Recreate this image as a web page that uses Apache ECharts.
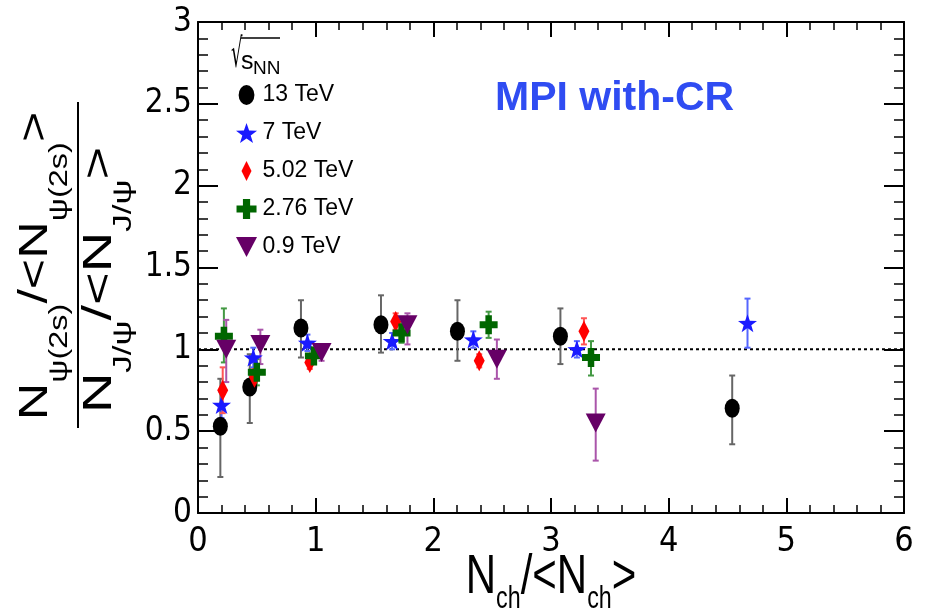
<!DOCTYPE html>
<html>
<head>
<meta charset="utf-8">
<script src="https://cdn.jsdelivr.net/npm/echarts@6/dist/echarts.min.js"></script>
<style>
html,body{margin:0;padding:0;background:#fff;}
#chart{width:927px;height:614px;}
</style>
</head>
<body>
<div id="chart"></div>
<script>
// ---- Data ----
const names = ['13 TeV', '7 TeV', '5.02 TeV', '2.76 TeV', '0.9 TeV'];

const x13 = [0.19, 0.44, 0.875, 1.555, 2.205, 3.08, 4.54];
const y13 = [0.53, 0.77, 1.13, 1.15, 1.11, 1.08, 0.64];
const lo13 = [0.31, 0.22, 0.18, 0.17, 0.18, 0.17, 0.22];
const hi13 = [0.29, 0.20, 0.17, 0.18, 0.19, 0.17, 0.20];

const x7 = [0.20, 0.47, 0.93, 1.65, 2.34, 3.22, 4.67];
const y7 = [0.66, 0.95, 1.04, 1.05, 1.06, 1.00, 1.16];
const lo7 = [0.08, 0.06, 0.05, 0.05, 0.05, 0.05, 0.15];
const hi7 = [0.08, 0.06, 0.05, 0.05, 0.05, 0.05, 0.15];

const x502 = [0.21, 0.48, 0.95, 1.68, 2.39, 3.28];
const y502 = [0.75, 0.83, 0.92, 1.17, 0.93, 1.11];
const lo502 = [0.14, 0.05, 0.04, 0.05, 0.04, 0.08];
const hi502 = [0.14, 0.05, 0.04, 0.05, 0.04, 0.08];

const x276 = [0.22, 0.50, 0.985, 1.73, 2.47, 3.34];
const y276 = [1.08, 0.86, 0.96, 1.10, 1.15, 0.95];
const lo276 = [0.16, 0.08, 0.05, 0.06, 0.08, 0.11];
const hi276 = [0.17, 0.08, 0.05, 0.06, 0.08, 0.10];

const x09 = [0.24, 0.53, 1.05, 1.78, 2.54, 3.38];
const y09 = [1.00, 1.03, 0.98, 1.15, 0.94, 0.55];
const lo09 = [0.20, 0.12, 0.05, 0.12, 0.12, 0.23];
const hi09 = [0.18, 0.09, 0.05, 0.07, 0.12, 0.21];

const xTicks = [0, 1, 2, 3, 4, 5, 6];
const yTicks = [0, 0.5, 1, 1.5, 2, 2.5, 3];
const refLine = 1;

// ---- Styles ----
const NARROW = "'Liberation Sans Narrow','DejaVu Sans Condensed','Liberation Sans',sans-serif";
const SANS = "'Liberation Sans',Arial,sans-serif";
const sets = [
  {name: names[0], x: x13, y: y13, lo: lo13, hi: hi13, color: '#000000', err: '#666666',
   symbol: 'path://M0,9.5A7.5,9.5 0 1,0 15,9.5A7.5,9.5 0 1,0 0,9.5Z', size: [15, 19]},
  {name: names[1], x: x7, y: y7, lo: lo7, hi: hi7, color: '#1a1aff', err: '#5566ff',
   symbol: 'path://M10,0L12.35,6.76L19.51,6.91L13.8,11.24L15.88,18.09L10,14L4.12,18.09L6.2,11.24L0.49,6.91L7.65,6.76Z', size: [19, 18]},
  {name: names[2], x: x502, y: y502, lo: lo502, hi: hi502, color: '#ff0000', err: '#ff5555',
   symbol: 'path://M5,0L10,10L5,20L0,10Z', size: [11, 21]},
  {name: names[3], x: x276, y: y276, lo: lo276, hi: hi276, color: '#006600', err: '#449944',
   symbol: 'path://M3.2,0H6.8V3.2H10V6.8H6.8V10H3.2V6.8H0V3.2H3.2Z', size: [18, 19]},
  {name: names[4], x: x09, y: y09, lo: lo09, hi: hi09, color: '#660066', err: '#aa55aa',
   symbol: 'path://M0,0L20,0L10,19Z', size: [20, 19]}
];

function errRender(color) {
  return function (params, api) {
    const x = api.value(0), y = api.value(1), lo = api.value(2), hi = api.value(3);
    const p1 = api.coord([x, y - lo]);
    const p2 = api.coord([x, y + hi]);
    const cw = 3;
    const st = {stroke: color, lineWidth: 2};
    return {type: 'group', children: [
      {type: 'line', shape: {x1: p1[0], y1: p1[1], x2: p2[0], y2: p2[1]}, style: st},
      {type: 'line', shape: {x1: p1[0] - cw, y1: p1[1], x2: p1[0] + cw, y2: p1[1]}, style: st},
      {type: 'line', shape: {x1: p2[0] - cw, y1: p2[1], x2: p2[0] + cw, y2: p2[1]}, style: st}
    ]};
  };
}

const series = [];
series.push({
  type: 'line', name: 'ref', data: [[xTicks[0], refLine], [xTicks[xTicks.length - 1], refLine]],
  symbol: 'none', lineStyle: {color: '#000', width: 2, type: [3, 3]}, z: 1, silent: true
});
sets.forEach(s => {
  series.push({
    type: 'custom', name: s.name + ' err', renderItem: errRender(s.err),
    data: s.x.map((v, i) => [v, s.y[i], s.lo[i], s.hi[i]]),
    encode: {x: 0, y: 1}, z: 2, silent: true, clip: false
  });
});
sets.forEach(s => {
  series.push({
    type: 'scatter', name: s.name, data: s.x.map((v, i) => [v, s.y[i]]),
    symbol: s.symbol, symbolSize: s.size, symbolKeepAspect: false,
    itemStyle: {color: s.color, opacity: 1}, z: 3
  });
});

function mkX(pos, showLabel) {
  return {
    type: 'value', min: xTicks[0], max: xTicks[xTicks.length - 1], interval: 1, position: pos,
    axisLine: {show: true, onZero: false, lineStyle: {color: '#000', width: 2}},
    splitLine: {show: false},
    axisTick: {inside: true, length: 15, lineStyle: {color: '#000', width: 2}},
    minorTick: {show: true, splitNumber: 5, length: 8, lineStyle: {color: '#000', width: 1.5}},
    axisLabel: showLabel ? {fontFamily: NARROW, fontSize: 34, color: '#000', margin: 12} : {show: false}
  };
}
function mkY(pos, showLabel) {
  return {
    type: 'value', min: yTicks[0], max: yTicks[yTicks.length - 1], interval: 0.5, position: pos,
    axisLine: {show: true, onZero: false, lineStyle: {color: '#000', width: 2}},
    splitLine: {show: false},
    axisTick: {inside: true, length: 20, lineStyle: {color: '#000', width: 2}},
    minorTick: {show: true, splitNumber: 5, length: 10, lineStyle: {color: '#000', width: 1.5}},
    axisLabel: showLabel ? {fontFamily: NARROW, fontSize: 33, color: '#000', margin: 6} : {show: false}
  };
}

const option = {
  animation: false,
  backgroundColor: '#fff',
  grid: {left: 198, right: 23, top: 22, bottom: 101},
  legend: {
    data: names, orient: 'vertical', left: 231, top: 77,
    itemWidth: 22, itemHeight: 20, itemGap: 12,
    textStyle: {fontFamily: SANS, fontSize: 23, color: '#000', lineHeight: 26},
    selectedMode: false
  },
  xAxis: [mkX('bottom', true), mkX('top', false)],
  yAxis: [mkY('left', true), mkY('right', false)],
  graphic: [
    {
      type: 'text', left: 495, top: 78,
      style: {text: 'MPI with-CR', font: "bold 41px 'Liberation Sans',Arial,sans-serif", fill: '#2f4cf2'}
    },
    // sqrt(s_NN) header
    {type: 'text', x: 231, y: 57, scaleX: 0.45, style: {text: '√', font: "40px 'DejaVu Sans',sans-serif", fill: '#000', verticalAlign: 'middle'}},
    {type: 'text', x: 241, y: 62, style: {text: 's', font: "25px 'Liberation Sans',sans-serif", fill: '#000', verticalAlign: 'middle'}},
    {type: 'text', x: 253, y: 69, style: {text: 'NN', font: "19px 'Liberation Sans',sans-serif", fill: '#000', verticalAlign: 'middle'}},
    {type: 'line', shape: {x1: 241, y1: 38, x2: 280, y2: 38}, style: {stroke: '#000', lineWidth: 1.5}},
    // x-axis title
    {
      type: 'text', x: 551, y: 575, scaleX: 0.75,
      style: {
        text: '{n|N}{s|ch}{n|/<N}{s|ch}{n|>}',
        align: 'center', verticalAlign: 'middle',
        rich: {
          n: {fontFamily: SANS, fontSize: 56, fill: '#000', lineHeight: 50, verticalAlign: 'top'},
          s: {fontFamily: SANS, fontSize: 31, fill: '#000', lineHeight: 10, padding: [34, 0, 0, 0], verticalAlign: 'top'}
        }
      }
    },
    // y-axis title (fraction)
    {
      type: 'text', x: 36, y: 266, rotation: Math.PI / 2, scaleX: 1.3,
      style: {
        text: '{n|N}{s|ψ(2s)}{n|/<N}{s|ψ(2s)}{n|>}',
        align: 'center', verticalAlign: 'middle',
        rich: {
          n: {fontFamily: SANS, fontSize: 40, fill: '#000', lineHeight: 40, verticalAlign: 'top'},
          s: {fontFamily: SANS, fontSize: 25, fill: '#000', lineHeight: 8, padding: [32, 0, 0, 0], verticalAlign: 'top'}
        }
      }
    },
    {type: 'line', shape: {x1: 78, y1: 102, x2: 78, y2: 428}, style: {stroke: '#000', lineWidth: 2}},
    {
      type: 'text', x: 100, y: 280, rotation: Math.PI / 2, scaleX: 1.4,
      style: {
        text: '{n|N}{s|J/ψ}{n|/<N}{s|J/ψ}{n|>}',
        align: 'center', verticalAlign: 'middle',
        rich: {
          n: {fontFamily: SANS, fontSize: 40, fill: '#000', lineHeight: 40, verticalAlign: 'top'},
          s: {fontFamily: SANS, fontSize: 25, fill: '#000', lineHeight: 8, padding: [32, 0, 0, 0], verticalAlign: 'top'}
        }
      }
    }
  ],
  series: series
};
const chart = echarts.init(document.getElementById('chart'), null, {renderer: 'canvas'});
chart.setOption(option);
</script>
</body>
</html>
